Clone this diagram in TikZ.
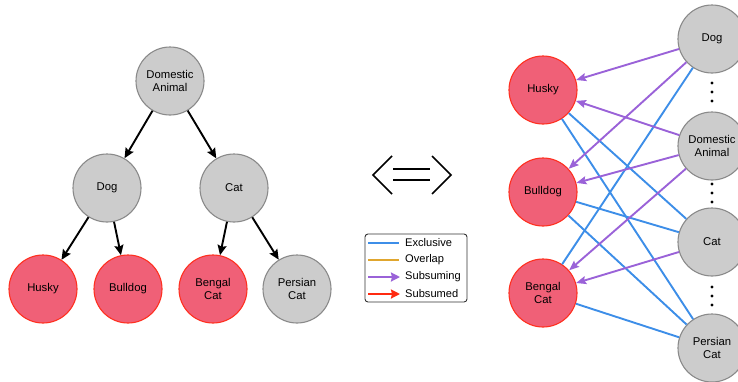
\documentclass[tikz,border=0pt]{standalone}
\usepackage{fontspec}
\setmainfont{Liberation Sans}
\usetikzlibrary{arrows.meta}

\definecolor{nodegray}{HTML}{CCCCCC}
\definecolor{nodeedge}{HTML}{8A8A8A}
\definecolor{redfill}{HTML}{F06077}
\definecolor{rededge}{HTML}{FF3020}
\definecolor{exclblue}{HTML}{3D8EE8}
\definecolor{overgold}{HTML}{E0A62E}
\definecolor{subpurple}{HTML}{9A62D8}
\definecolor{subred}{HTML}{FF2A10}

\begin{document}
\begin{tikzpicture}[x=1pt,y=-1pt,
    concept/.style={circle,minimum size=68pt,inner sep=0pt,align=center,fill=nodegray,draw=nodeedge,line width=1.1pt,font=\fontsize{11.3}{13.3}\selectfont},
    leaf/.style={concept,fill=redfill,draw=rededge},
    isa/.style={-{Stealth[length=10pt,width=9pt,inset=1.5pt]},line width=1.9pt},
    excl/.style={exclblue,line width=1.9pt},
    subsm/.style={subpurple,line width=1.9pt,-{Stealth[length=10pt,width=8pt,inset=1.5pt]}},
    legline/.style={line width=2.4pt},
    legtext/.style={anchor=west,inner sep=0pt,font=\fontsize{11.1}{13}\selectfont}]
        \clip (0,0) rectangle (738,381);

        % hierarchy
        \node[concept] (dom) at (170,81) {Domestic\\Animal};
        \node[concept] (dog) at (107,188) {Dog};
        \node[concept] (cat) at (234,188) {Cat};
        \node[leaf] (husky) at (43,289) {Husky};
        \node[leaf] (bulldog) at (128,289) {Bulldog};
        \node[leaf] (bengal) at (213,289) {Bengal\\Cat};
        \node[concept] (persian) at (297,289) {Persian\\Cat};

        \draw[isa] (dom) -- (dog);
        \draw[isa] (dom) -- (cat);
        \draw[isa] (dog) -- (husky);
        \draw[isa] (dog) -- (bulldog);
        \draw[isa] (cat) -- (bengal);
        \draw[isa] (cat) -- (persian);

        % equivalence sign
        \draw[line width=1.6pt] (392,156) -- (373,175) -- (392,194);
        \draw[line width=1.6pt] (432,156) -- (451,175) -- (432,194);
        \draw[line width=1.6pt] (393,169) -- (430,169);
        \draw[line width=1.6pt] (393,180) -- (430,180);

        % legend
        \draw[rounded corners=3pt,draw=black!80,line width=0.9pt,fill=white] (365,234) rectangle (467,302);
        \node[legtext] (lexcl) at (405,243) {Exclusive};
        \node[legtext] (lover) at (405,260) {Overlap};
        \node[legtext] (lsubs) at (405,277) {Subsuming};
        \node[legtext] (lsubd) at (405,294) {Subsumed};
        \coordinate (lexcl0) at (368,243);
        \coordinate (lover0) at (368,260);
        \coordinate (lsubs0) at (368,277);
        \coordinate (lsubd0) at (368,294);
        \draw[legline,exclblue] (lexcl0) -- ([xshift=-6pt]lexcl.west);
        \draw[legline,overgold] (lover0) -- ([xshift=-6pt]lover.west);
        \draw[legline,subpurple,-{Stealth[length=9pt,width=9pt,inset=1pt]}] (lsubs0) -- ([xshift=-5pt]lsubs.west);
        \draw[legline,subred,-{Stealth[length=9pt,width=9pt,inset=1pt]}] (lsubd0) -- ([xshift=-5pt]lsubd.west);

        % flattened relations
        \node[leaf] (rhusky) at (543,90) {Husky};
        \node[leaf] (rbulldog) at (543,192) {Bulldog};
        \node[leaf] (rbengal) at (543,293) {Bengal\\Cat};
        \node[concept] (rdog) at (712,39) {Dog};
        \node[concept] (rdom) at (712,146) {Domestic\\Animal};
        \node[concept] (rcat) at (712,242) {Cat};
        \node[concept] (rpersian) at (712,348) {Persian\\Cat};

        \fill (712,83) circle (1.7pt) (712,92) circle (1.7pt) (712,101) circle (1.7pt);
        \fill (712,184) circle (1.7pt) (712,193) circle (1.7pt) (712,202) circle (1.7pt);
        \fill (712,287) circle (1.7pt) (712,296) circle (1.7pt) (712,305) circle (1.7pt);

        \draw[excl] (rdog) -- (rbengal);
        \draw[excl] (rhusky) -- (rcat);
        \draw[excl] (rhusky) -- (rpersian);
        \draw[excl] (rbulldog) -- (rcat);
        \draw[excl] (rbulldog) -- (rpersian);
        \draw[excl] (rbengal) -- (rpersian);

        \draw[subsm] (rdog) -- (rhusky);
        \draw[subsm] (rdog) -- (rbulldog);
        \draw[subsm] (rdom) -- (rhusky);
        \draw[subsm] (rdom) -- (rbulldog);
        \draw[subsm] (rdom) -- (rbengal);
        \draw[subsm] (rcat) -- (rbengal);

    \end{tikzpicture}
\end{document}
